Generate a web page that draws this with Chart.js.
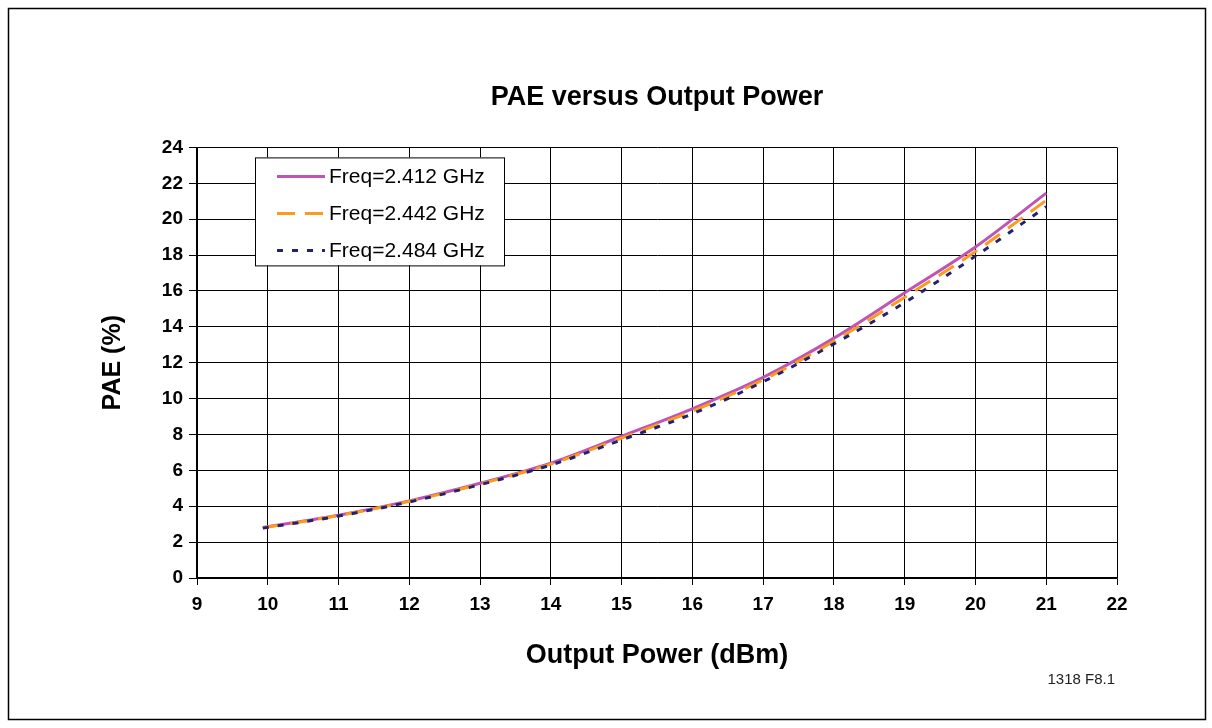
<!DOCTYPE html>
<html>
<head>
<meta charset="utf-8">
<script src="https://cdn.jsdelivr.net/npm/chart.js@4/dist/chart.umd.min.js"></script>
<style>
  html, body { margin: 0; padding: 0; background: #fff; }
  canvas { display: block; }
</style>
</head>
<body>
<canvas id="pae" width="1212" height="728"></canvas>
<script>
// output power (dBm) where the curves were sampled
const powerDbm = [9.93, 11, 12, 13, 14, 15, 16, 17, 18, 19, 20, 21];

// PAE (%) per frequency
const pae2412 = [2.82, 3.50, 4.30, 5.28, 6.40, 7.90, 9.43, 11.18, 13.37, 15.90, 18.45, 21.45];
const pae2442 = [2.80, 3.48, 4.27, 5.24, 6.35, 7.80, 9.30, 11.05, 13.20, 15.65, 18.20, 21.05];
const pae2484 = [2.78, 3.45, 4.24, 5.20, 6.30, 7.70, 9.15, 10.94, 13.05, 15.35, 17.94, 20.70];

const seriesLabels = ['Freq=2.412 GHz', 'Freq=2.442 GHz', 'Freq=2.484 GHz'];

const FONT = 'Arial, "Liberation Sans", sans-serif';

function pts(ys) {
    return powerDbm.map((x, i) => ({ x: x, y: ys[i] }));
}

// white background, outer frame, footnote and the boxed legend
const decor = {
    id: 'decor',
    beforeDraw(chart) {
        const ctx = chart.ctx;
        ctx.save();
        ctx.fillStyle = '#fff';
        ctx.fillRect(0, 0, chart.width, chart.height);
        ctx.strokeStyle = '#000';
        ctx.lineWidth = 1.5;
        ctx.strokeRect(8.5, 8.5, 1197, 711);
        ctx.restore();
    },
    afterDraw(chart) {
        const ctx = chart.ctx;
        const area = chart.chartArea;
        ctx.save();

        ctx.font = '15px ' + FONT;
        ctx.fillStyle = '#222';
        ctx.textAlign = 'right';
        ctx.textBaseline = 'middle';
        ctx.fillText('1318 F8.1', area.right - 2, 680);

        // legend
        const bx = area.left + 58, by = area.top + 10, bw = 249, bh = 108;
        ctx.fillStyle = '#fff';
        ctx.fillRect(bx, by, bw, bh);
        ctx.strokeStyle = '#000';
        ctx.lineWidth = 1;
        ctx.strokeRect(bx + 0.5, by + 0.5, bw, bh);

        ctx.font = '21px ' + FONT;
        ctx.textAlign = 'left';
        chart.data.datasets.forEach((ds, i) => {
            const y = by + 19 + i * 37;
            ctx.beginPath();
            ctx.strokeStyle = ds.borderColor;
            ctx.lineWidth = ds.borderWidth;
            ctx.setLineDash(ds.borderDash || []);
            ctx.moveTo(bx + 22, y);
            ctx.lineTo(bx + 70, y);
            ctx.stroke();
            ctx.setLineDash([]);
            ctx.fillStyle = '#000';
            ctx.fillText(ds.label, bx + 74, y + 1);
        });
        ctx.restore();
    }
};

new Chart(document.getElementById('pae'), {
    type: 'line',
    data: {
        datasets: [
            {
                label: seriesLabels[0],
                data: pts(pae2412),
                borderColor: '#C054B2',
                borderWidth: 3,
                order: 2
            },
            {
                label: seriesLabels[1],
                data: pts(pae2442),
                borderColor: '#FB9A1E',
                borderWidth: 3,
                borderDash: [18, 10],
                order: 1
            },
            {
                label: seriesLabels[2],
                data: pts(pae2484),
                borderColor: '#22226E',
                borderWidth: 3,
                borderDash: [6, 9],
                order: 0
            }
        ]
    },
    options: {
        responsive: false,
        animation: false,
        layout: { padding: { left: 88, right: 95, top: 0, bottom: 0 } },
        elements: {
            point: { radius: 0 },
            line: { cubicInterpolationMode: 'monotone', fill: false }
        },
        plugins: {
            legend: { display: false },
            tooltip: { enabled: false },
            title: {
                display: true,
                fullSize: false,
                text: 'PAE versus Output Power',
                color: '#000',
                font: { family: FONT, size: 27, weight: 'bold' },
                padding: { top: 81, bottom: 34 }
            }
        },
        scales: {
            x: {
                type: 'linear',
                min: 9,
                max: 22,
                afterFit(scale) { scale.height = 150; },
                ticks: {
                    stepSize: 1,
                    color: '#000',
                    padding: 8,
                    font: { family: FONT, size: 19, weight: 'bold' }
                },
                grid: { color: '#000', lineWidth: 1, tickLength: 7 },
                border: { color: '#000', width: 1.5 },
                title: {
                    display: true,
                    text: 'Output Power (dBm)',
                    color: '#000',
                    font: { family: FONT, size: 27, weight: 'bold' },
                    padding: { top: 0, bottom: 56 }
                }
            },
            y: {
                min: 0,
                max: 24,
                afterFit(scale) { scale.width = 109; },
                ticks: {
                    stepSize: 2,
                    color: '#000',
                    padding: 6,
                    font: { family: FONT, size: 19, weight: 'bold' }
                },
                grid: { color: '#000', lineWidth: 1, tickLength: 8 },
                border: { color: '#000', width: 1.5 },
                title: {
                    display: true,
                    text: 'PAE (%)',
                    color: '#000',
                    font: { family: FONT, size: 25, weight: 'bold' },
                    padding: { top: 10, bottom: 0 }
                }
            }
        }
    },
    plugins: [decor]
});
</script>
</body>
</html>
